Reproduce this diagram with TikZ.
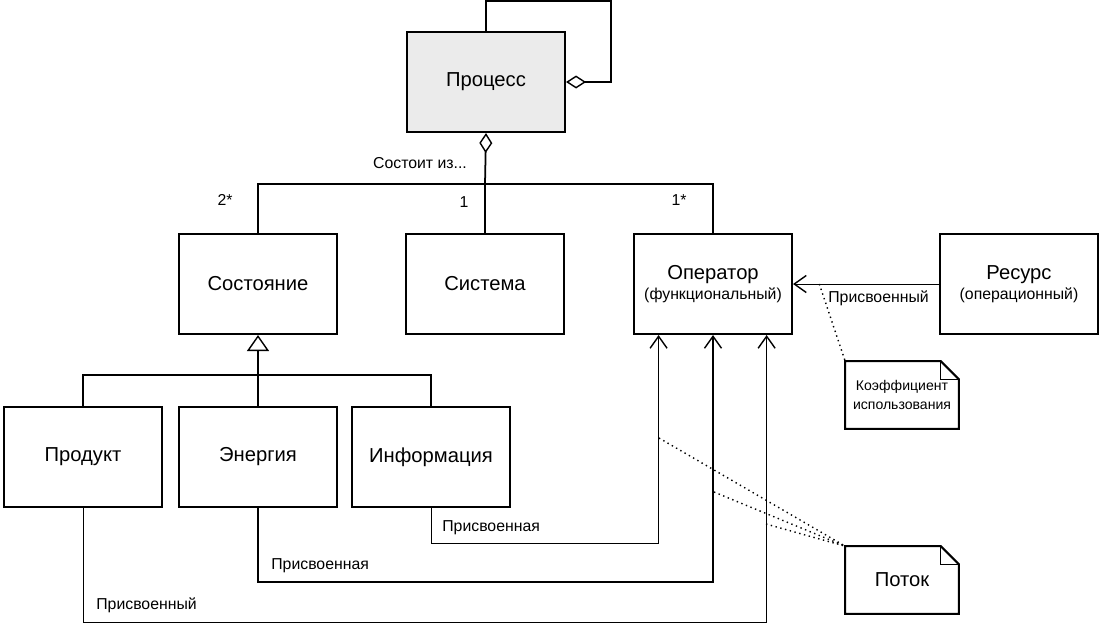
\documentclass[tikz,border=0pt]{standalone}
\usepackage{fontspec}
\setmainfont{Liberation Sans}
\usetikzlibrary{arrows.meta,calc}

\begin{document}
\begin{tikzpicture}[x=0.02cm,y=-0.02cm,every node/.style={black},
  klass/.style={draw,line width=1.2pt,minimum width=3.16cm,minimum height=2cm,inner sep=0pt,align=center,font=\fontsize{11.5}{13}\selectfont},
  notebox/.style={minimum width=2.26cm,minimum height=1.34cm,inner sep=0pt,align=center},
  lbl/.style={inner sep=0pt,font=\fontsize{9}{11}\selectfont},
  link/.style={line width=1pt},
  agg/.style={link,-{Diamond[open,length=0.4cm,width=0.26cm,line width=0.8pt]}},
  gen/.style={link,-{Triangle[open,length=0.32cm,width=0.44cm,line width=0.8pt]}},
  assoc/.style={line width=0.55pt,-{Straight Barb[length=0.24cm,width=0.34cm,line width=0.8pt]}},
  noteline/.style={line width=1.2pt,line join=miter},
  fold/.style={line width=0.6pt},
  trace/.style={dotted,line width=0.8pt}]
\useasboundingbox (0,0) rectangle (1102,626);

% classes
\node[klass,fill=gray!16] (proc) at (486,82) {Процесс};
\node[klass] (sost) at (258,284) {Состояние};
\node[klass] (sys) at (485,284) {Система};
\node[klass] (oper) at (713,284) {Оператор\\[-1.7pt]{\fontsize{9}{11}\selectfont(функциональный)}};
\node[klass] (res) at (1019,284) {Ресурс\\[-1.7pt]{\fontsize{9}{11}\selectfont(операционный)}};
\node[klass] (prod) at (83,457) {Продукт};
\node[klass] (energ) at (258,457) {Энергия};
\node[klass] (info) at (431,457) {Информация};

% notes
\node[notebox,font=\fontsize{8}{11}\selectfont] (koef) at (902,395) {Коэффициент\\использования};
\node[notebox,font=\fontsize{11.5}{13}\selectfont] (flow) at (902,580) {Поток};

\draw[noteline] (koef.south west) -- (koef.north west) -- ([xshift=-0.36cm]koef.north east) -- ([yshift=-0.36cm]koef.north east) -- (koef.south east) -- cycle;
\draw[fold] ([xshift=-0.36cm]koef.north east) -- ([xshift=-0.36cm,yshift=-0.36cm]koef.north east) -- ([yshift=-0.36cm]koef.north east);
\draw[noteline] (flow.south west) -- (flow.north west) -- ([xshift=-0.36cm]flow.north east) -- ([yshift=-0.36cm]flow.north east) -- (flow.south east) -- cycle;
\draw[fold] ([xshift=-0.36cm]flow.north east) -- ([xshift=-0.36cm,yshift=-0.36cm]flow.north east) -- ([yshift=-0.36cm]flow.north east);

% aggregation
\coordinate (bus) at (485,184);
\draw[agg] (proc.north) -- ++(0,-30) -- ++(125,0) |- (proc.east);
\draw[agg] (bus) -- (proc.south);
\draw[link] (sost.north) |- (bus) -| (oper.north);
\draw[link] (sys.north) -- (bus);
\node[lbl] (sostoit) at (420,163) {Состоит из...};
\node[lbl] (m1) at (225,200) {2*};
\node[lbl] (m2) at (464,202) {1};
\node[lbl] (m3) at (679,200) {1*};

% generalization
\coordinate (gbus) at (258,375);
\draw[link] (prod.north) |- (gbus) -| (info.north);
\draw[gen] (energ.north) -- (sost.south);

% assignments
\draw[assoc] (res.west) -- coordinate[pos=0.82] (kc) (oper.east);
\node[lbl,anchor=west] (pr0) at (828,298) {Присвоенный};
\draw[assoc] (info.south) -- ++(0,35) -| ($(oper.south west)!0.16!(oper.south east)$);
\draw[assoc,line width=1pt] (energ.south) -- ++(0,74) -| (oper.south);
\draw[assoc] (prod.south) -- ++(0,114) -| ($(oper.south west)!0.835!(oper.south east)$);
\node[lbl,anchor=west] (pr1) at (442,528) {Присвоенная};
\node[lbl,anchor=west] (pr2) at (271,566) {Присвоенная};
\node[lbl,anchor=west] (pr3) at (96,605) {Присвоенный};

% notes attached
\coordinate (f1) at (659,438);
\coordinate (f2) at (714,492);
\coordinate (f3) at (766,524);
\draw[trace] (kc) -- (koef.north west);
\draw[trace] (f1) -- (flow.north west);
\draw[trace] (f2) -- (flow.north west);
\draw[trace] (f3) -- (flow.north west);

\end{tikzpicture}
\end{document}
